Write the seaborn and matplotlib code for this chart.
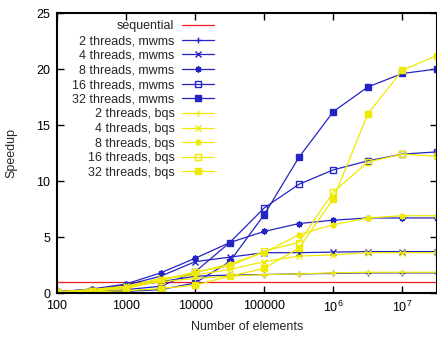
import math
import matplotlib
matplotlib.use("Agg")
import matplotlib.pyplot as plt
from matplotlib.ticker import FixedLocator, FuncFormatter, NullLocator
import seaborn as sns
import pandas as pd

# number of elements (half decades from 1e2 to 10^7.5)
sizes = [100, 316, 1000, 3162, 10000, 31623, 100000, 316228,
         1000000, 3162278, 10000000, 31622777]

sequential = [1.0] * len(sizes)

mwms_2 = [0.1, 0.35, 0.6, 1.0, 1.5, 1.6, 1.65, 1.7, 1.75, 1.8, 1.8, 1.8]
mwms_4 = [0.1, 0.3, 0.7, 1.5, 2.8, 3.2, 3.6, 3.6, 3.65, 3.7, 3.7, 3.7]
mwms_8 = [0.1, 0.35, 0.8, 1.8, 3.1, 4.5, 5.5, 6.2, 6.5, 6.7, 6.7, 6.7]
mwms_16 = [0.05, 0.15, 0.3, 0.6, 1.9, 4.5, 7.6, 9.7, 11.0, 11.8, 12.4, 12.6]
mwms_32 = [0.05, 0.08, 0.15, 0.3, 0.9, 2.8, 7.0, 12.1, 16.2, 18.4, 19.6, 20.0]

bqs_2 = [0.1, 0.3, 0.6, 1.0, 1.3, 1.5, 1.65, 1.7, 1.8, 1.85, 1.85, 1.85]
bqs_4 = [0.1, 0.3, 0.6, 1.3, 1.6, 2.1, 2.8, 3.3, 3.4, 3.6, 3.6, 3.6]
bqs_8 = [0.1, 0.2, 0.5, 1.2, 1.8, 2.6, 3.6, 5.2, 6.1, 6.7, 6.9, 6.9]
bqs_16 = [0.05, 0.15, 0.4, 1.1, 1.9, 2.4, 3.75, 4.5, 9.0, 11.7, 12.4, 12.2]
bqs_32 = [0.05, 0.1, 0.2, 0.4, 0.7, 1.5, 2.2, 4.0, 8.4, 16.0, 19.9, 21.2]

xtick_vals = [100, 1000, 10000, 100000, 1000000, 10000000]
ytick_vals = [0, 5, 10, 15, 20, 25]

blue = "#2424c4"
yellow = "#eeea00"
red = "#ee1c1c"
star = (8, 2, 0)

sns.set_style("ticks")
plt.rcParams["font.family"] = ["Liberation Sans", "DejaVu Sans"]
plt.rcParams["mathtext.fontset"] = "custom"
plt.rcParams["mathtext.rm"] = "Liberation Sans"
plt.rcParams["mathtext.it"] = "Liberation Sans"

series = [
    ("sequential", sequential, red, None, False),
    ("2 threads, mwms", mwms_2, blue, "+", True),
    ("4 threads, mwms", mwms_4, blue, "x", True),
    ("8 threads, mwms", mwms_8, blue, star, True),
    ("16 threads, mwms", mwms_16, blue, "s", False),
    ("32 threads, mwms", mwms_32, blue, "s", True),
    ("2 threads, bqs", bqs_2, yellow, "+", True),
    ("4 threads, bqs", bqs_4, yellow, "x", True),
    ("8 threads, bqs", bqs_8, yellow, star, True),
    ("16 threads, bqs", bqs_16, yellow, "s", False),
    ("32 threads, bqs", bqs_32, yellow, "s", True),
]


def xfmt(v, pos):
    if v <= 100000:
        return f"{int(v)}"
    return f"$10^{{{int(round(math.log10(v)))}}}$"


fig = plt.figure(figsize=(4.37, 3.37), dpi=100)
ax = fig.add_axes([57 / 437, 1 - 293 / 337, 1 - 57 / 437, (293 - 13) / 337])

for name, vals, col, mk, filled in series:
    df = pd.DataFrame({"n": sizes, "speedup": vals})
    kw = dict(color=col, linewidth=0.9, label=name)
    if mk is not None:
        ms = 5 if mk == "s" else 4.5
        kw.update(marker=mk, markersize=ms, markeredgecolor=col,
                  markeredgewidth=1.0,
                  markerfacecolor=col if filled else "none")
    sns.lineplot(data=df, x="n", y="speedup", ax=ax, **kw)

ax.set_xscale("log")
ax.set_xlim(100, 10 ** 7.5)
ax.set_ylim(0, 25)

ax.xaxis.set_major_locator(FixedLocator(xtick_vals))
ax.xaxis.set_minor_locator(NullLocator())
ax.xaxis.set_major_formatter(FuncFormatter(xfmt))
ax.set_yticks(ytick_vals)

ax.tick_params(direction="in", length=5, width=1, top=True, right=True,
               labelsize=9, pad=5, colors="black")
for s in ax.spines.values():
    s.set_linewidth(1.5)
    s.set_color("black")

ax.set_xlabel("Number of elements", fontsize=9)
ax.set_ylabel("Speedup", fontsize=9)
ax.xaxis.set_label_coords(0.5, -0.1)
ax.yaxis.set_label_coords(-0.105, 0.5)

ax.legend(loc="upper left", frameon=False, markerfirst=False, fontsize=9,
          handlelength=2.6, handletextpad=0.6, labelspacing=0.21,
          borderaxespad=0.2, bbox_to_anchor=(0.02, 1.0))

fig.savefig("out.png", dpi=100)
